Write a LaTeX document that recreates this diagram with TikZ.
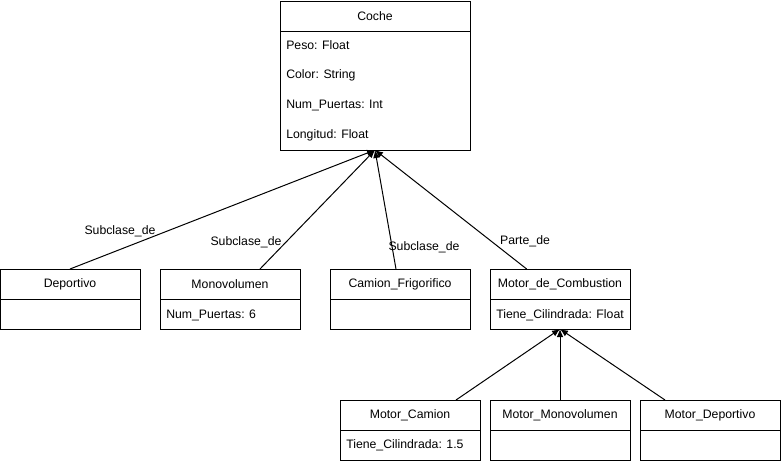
\documentclass[tikz,border=0pt]{standalone}
\usepackage{fontspec}
\setmainfont{Liberation Sans}
\usetikzlibrary{arrows.meta}

\tikzset{
  hdr/.style={draw, line width=0.75pt, anchor=north west, inner sep=0pt, outer sep=0pt, minimum width=105pt, minimum height=22.5pt},
  bdy/.style={draw, line width=0.75pt, anchor=north west, inner sep=0pt, outer sep=0pt, minimum width=105pt, minimum height=22.5pt},
  attr/.style={anchor=west, inner sep=0.75pt},
  lbl/.style={inner sep=0.75pt},
  inh/.style={line width=0.75pt, -{Latex[length=6pt,width=5pt]}}
}

\begin{document}
\begin{tikzpicture}[x=0.75pt,y=0.75pt,yscale=-1,xscale=1,font=\fontsize{9.2}{11}\selectfont]
    \useasboundingbox (0,0) rectangle (781,461);

    % Coche
    \node [hdr, minimum width=142.5pt] (coche) at (280,1) {Coche};
    \node [bdy, minimum width=142.5pt, minimum height=89.25pt] (cocheB) at (coche.south west) {};
    \node [attr] (peso) at (285,45) {Peso: Float};
    \node [attr] (color) at (285,75) {Color: String};
    \node [attr] (puertas) at (285,105) {Num\_Puertas: Int};
    \node [attr] (longitud) at (285,135) {Longitud: Float};

    % Subclases
    \node [hdr] (deportivo) at (0,269) {Deportivo};
    \node [bdy] (deportivoB) at (deportivo.south west) {};
    \node [hdr] (monovol) at (160,269) {Monovolumen};
    \node [bdy] (monovolB) at (monovol.south west) {};
    \node [attr] (monovolA) at (165,315) {Num\_Puertas: 6};
    \node [hdr] (camion) at (330,269) {Camion\_Frigorifico};
    \node [bdy] (camionB) at (camion.south west) {};
    \node [hdr] (motor) at (490,269) {Motor\_de\_Combustion};
    \node [bdy] (motorB) at (motor.south west) {};
    \node [attr] (motorA) at (495,315) {Tiene\_Cilindrada: Float};

    % Motores
    \node [hdr] (mcamion) at (340,400) {Motor\_Camion};
    \node [bdy] (mcamionB) at (mcamion.south west) {};
    \node [attr] (mcamionA) at (345,445) {Tiene\_Cilindrada: 1.5};
    \node [hdr] (mmonovol) at (490,400) {Motor\_Monovolumen};
    \node [bdy] (mmonovolB) at (mmonovol.south west) {};
    \node [hdr] (mdeportivo) at (640,400) {Motor\_Deportivo};
    \node [bdy] (mdeportivoB) at (mdeportivo.south west) {};

    % Relaciones
    \draw [inh] (deportivo.north) -- (cocheB.south);
    \draw [inh] ([xshift=75pt]monovol.north west) -- (cocheB.south);
    \draw [inh] ([xshift=-3pt]camion.north) -- (cocheB.south);
    \draw [inh] ([xshift=-25pt]motor.north) -- (cocheB.south);
    \draw [inh] ([xshift=-18pt]mcamion.north east) -- (motorB.south);
    \draw [inh] (mmonovol.north) -- (motorB.south);
    \draw [inh] ([xshift=18.75pt]mdeportivo.north west) -- (motorB.south);

    % Etiquetas
    \node [lbl] (l1) at (120,231) {Subclase\_de};
    \node [lbl] (l2) at (246,242) {Subclase\_de};
    \node [lbl] (l3) at (424,247) {Subclase\_de};
    \node [lbl] (l4) at (525,241) {Parte\_de};

\end{tikzpicture}
\end{document}
